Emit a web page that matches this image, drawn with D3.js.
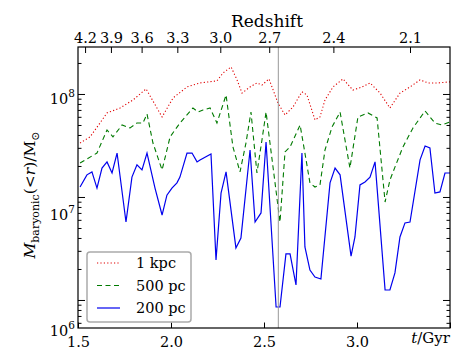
<!DOCTYPE html>
<html><head><meta charset="utf-8">
<script src="https://cdn.jsdelivr.net/npm/d3@7/dist/d3.min.js"></script>
<style>body{margin:0;background:#fff}svg{display:block}text{font-family:"DejaVu Serif",serif;fill:#000}</style>
</head><body><svg id="c" width="461" height="357"></svg>
<script>
// ---- data ----
const t1kpc = [1.511,1.565,1.618,1.656,1.726,1.796,1.866,1.952,2.011,2.086,2.156,2.247,2.280,2.323,2.355,2.382,2.425,2.462,2.489,2.527,2.575,2.613,2.656,2.704,2.731,2.774,2.801,2.828,2.871,2.925,2.978,3.027,3.070,3.124,3.177,3.231,3.285,3.339,3.382,3.435,3.500];
const m1kpc = [3.34e7,3.83e7,5.22e7,6.55e7,7.31e7,8.75e7,1.12e8,5.98e7,9.14e7,1.17e8,1.28e8,1.34e8,1.60e8,1.83e8,1.37e8,1.02e8,1.17e8,1.28e8,1.22e8,1.40e8,8.18e7,6.25e7,7.48e7,1.05e8,9.78e7,5.60e7,5.98e7,8.75e7,1.17e8,1.40e8,1.09e8,1.17e8,1.28e8,1.02e8,7.31e7,1.02e8,1.17e8,1.37e8,1.28e8,1.28e8,1.31e8];
const t500pc = [1.511,1.602,1.656,1.688,1.737,1.780,1.817,1.849,1.871,1.903,1.952,1.995,2.048,2.118,2.145,2.172,2.210,2.247,2.296,2.333,2.371,2.403,2.430,2.462,2.489,2.511,2.586,2.613,2.640,2.694,2.720,2.747,2.774,2.801,2.828,2.866,2.909,2.962,3.005,3.059,3.108,3.151,3.177,3.204,3.247,3.301,3.366,3.419,3.457,3.500];
const m500pc = [2.14e7,2.67e7,4.47e7,3.83e7,5.00e7,4.68e7,5.22e7,5.22e7,6.40e7,3.34e7,1.83e7,3.83e7,5.22e7,7.31e7,6.68e7,7.00e7,7.31e7,5.22e7,9.78e7,3.06e7,1.75e7,3.34e7,6.68e7,1.71e7,3.57e7,6.68e7,5.71e6,2.74e7,3.06e7,5.00e7,2.67e7,1.37e7,1.25e7,1.31e7,2.86e7,4.79e7,6.68e7,1.91e7,5.98e7,6.55e7,5.85e7,8.93e6,1.46e7,1.95e7,3.06e7,4.68e7,6.84e7,5.22e7,5.00e7,5.35e7];
const t200pc = [1.511,1.548,1.575,1.602,1.629,1.656,1.683,1.710,1.758,1.790,1.817,1.844,1.871,1.914,1.952,1.978,2.005,2.032,2.048,2.086,2.113,2.140,2.156,2.215,2.242,2.269,2.296,2.349,2.376,2.425,2.452,2.484,2.511,2.565,2.586,2.618,2.640,2.672,2.704,2.720,2.747,2.774,2.806,2.855,2.882,2.909,2.968,2.989,3.016,3.043,3.070,3.097,3.151,3.177,3.204,3.231,3.258,3.285,3.339,3.366,3.392,3.419,3.446,3.473,3.500];
const m200pc = [1.25e7,1.64e7,1.75e7,1.22e7,1.91e7,2.19e7,1.71e7,2.67e7,5.71e6,1.56e7,2.05e7,1.83e7,2.67e7,1.22e7,6.68e6,1.04e7,1.22e7,1.37e7,1.56e7,2.67e7,2.67e7,2.19e7,2.29e7,2.61e7,2.44e6,1.09e7,1.75e7,3.20e6,4.00e6,2.86e7,5.71e6,7.00e6,3.42e7,8.55e5,8.55e5,2.80e6,2.80e6,1.40e6,2.67e7,3.27e6,1.95e6,1.67e6,1.60e6,1.37e7,1.91e7,1.64e7,2.67e6,4.09e6,1.31e7,1.40e7,1.56e7,2.19e7,1.25e6,1.25e6,1.83e6,4.09e6,5.60e6,5.71e6,2.29e7,3.13e7,2.99e7,1.09e7,1.12e7,1.71e7,1.71e7];
const seriesNames = ["1 kpc","500 pc","200 pc"];
const xTicks = [1.5,2.0,2.5,3.0,3.5];
const xTickLabels = ["1.5","2.0","2.5","3.0",""];
const zTickLabels = ["4.2","3.9","3.6","3.3","3.0","2.7","2.4","2.1"];
const zTickTimes = [1.538,1.677,1.842,2.034,2.265,2.528,2.873,3.285];
const yMajor = [1e6,1e7,1e8];
const yLabelExp = ["6","7","8"];
const markerTime = 2.577;

// ---- layout ----
const W=461,H=357, L=78, R=450, T=47, B=328;
const svg = d3.select("#c");
const x = d3.scaleLinear().domain([1.5,3.5]).range([L,R]);
const y = d3.scaleLog().domain([Math.pow(10,5.728),Math.pow(10,8.456)]).range([B,T]);
const yLab = d3.scaleLog().domain([1e6,1e8]).range([331,99]);

const yMinor = [];
for (let e=5;e<=8;e++) for (let k=2;k<=9;k++){const v=k*Math.pow(10,e); if(v>=y.domain()[0]&&v<=y.domain()[1]) yMinor.push(v);}

const styles = [
  {t:t1kpc,m:m1kpc,color:"#e00000",dash:"1.2,2.2",w:1.1},
  {t:t500pc,m:m500pc,color:"#007a00",dash:"5,3.5",w:1.1},
  {t:t200pc,m:m200pc,color:"#0000ee",dash:null,w:1.2}
];

const clip = svg.append("clipPath").attr("id","pc").append("rect").attr("x",L).attr("y",T).attr("width",R-L).attr("height",B-T);
const line = d3.line().x(d=>x(d[0])).y(d=>y(d[1]));
const g = svg.append("g").attr("clip-path","url(#pc)");
styles.forEach(s=>{
  g.append("path").datum(s.t.map((tt,i)=>[tt,s.m[i]]))
   .attr("d",line).attr("fill","none").attr("stroke",s.color).attr("stroke-width",s.w)
   .attr("stroke-dasharray",s.dash).attr("stroke-linejoin","miter");
});
// marker line
svg.append("line").attr("x1",x(markerTime)).attr("x2",x(markerTime)).attr("y1",T).attr("y2",B)
  .attr("stroke","#999").attr("stroke-width",1);

// axes ticks
function styleAxis(sel){sel.select(".domain").remove(); sel.selectAll(".tick line").attr("stroke","#000").attr("stroke-width",1);}
svg.append("g").attr("transform",`translate(${L},0)`).call(d3.axisLeft(y).tickValues(yMajor).tickSize(-7).tickFormat("")).call(styleAxis);
svg.append("g").attr("transform",`translate(${L},0)`).call(d3.axisLeft(y).tickValues(yMinor).tickSize(-3.5).tickFormat("")).call(styleAxis);
svg.append("g").attr("transform",`translate(${R},0)`).call(d3.axisRight(y).tickValues(yMajor).tickSize(-7).tickFormat("")).call(styleAxis);
svg.append("g").attr("transform",`translate(${R},0)`).call(d3.axisRight(y).tickValues(yMinor).tickSize(-3.5).tickFormat("")).call(styleAxis);
const xb = svg.append("g").attr("transform",`translate(0,${B})`).call(d3.axisBottom(x).tickValues(xTicks).tickSize(-5.5).tickPadding(9).tickFormat((d,i)=>xTickLabels[i])).call(styleAxis);
xb.selectAll("text").attr("font-size",14.5).attr("font-family","DejaVu Serif");
const xt = svg.append("g").attr("transform",`translate(0,${T})`).call(d3.axisTop(x).tickValues(zTickTimes).tickSize(-6).tickPadding(4).tickFormat((d,i)=>zTickLabels[i])).call(styleAxis);
xt.selectAll("text").attr("font-size",14.5).attr("font-family","DejaVu Serif");

// frame
svg.append("rect").attr("x",L).attr("y",T).attr("width",R-L).attr("height",B-T).attr("fill","none").attr("stroke","#000").attr("stroke-width",1.2);

// y tick labels
yMajor.forEach((v,i)=>{
  const tx = svg.append("text").attr("x",75).attr("y",yLab(v)+5).attr("text-anchor","end").attr("font-size",14.5);
  tx.append("tspan").text("10");
  tx.append("tspan").attr("dy",-7).attr("font-size",10.5).text(yLabelExp[i]);
});

// titles
svg.append("text").attr("x",267).attr("y",27).attr("text-anchor","middle").attr("font-size",17).text("Redshift");
const xl = svg.append("text").attr("x",450).attr("y",343).attr("text-anchor","end").attr("font-size",15);
xl.append("tspan").attr("font-style","italic").text("t");
xl.append("tspan").text("/Gyr");
const yl = svg.append("text").attr("transform","translate(35,195) rotate(-90)").attr("text-anchor","middle").attr("font-size",15.5);
yl.append("tspan").attr("font-style","italic").text("M");
yl.append("tspan").attr("dy",4).attr("font-size",11).text("baryonic");
yl.append("tspan").attr("dy",-4).text("(<");
yl.append("tspan").attr("font-style","italic").text("r");
yl.append("tspan").text(")/M");
yl.append("tspan").attr("dy",4).attr("font-size",11).text("⊙");

// legend
const lg = svg.append("g");
lg.append("rect").attr("x",87).attr("y",252).attr("width",104).attr("height",70).attr("rx",3).attr("fill","#fff").attr("stroke","#aaa").attr("stroke-width",1.5);
seriesNames.forEach((n,i)=>{
  const yy = 263+i*22.5, s=styles[i];
  lg.append("line").attr("x1",97).attr("x2",120).attr("y1",yy).attr("y2",yy).attr("stroke",s.color).attr("stroke-width",s.w).attr("stroke-dasharray",s.dash);
  lg.append("text").attr("x",136).attr("y",yy+5).attr("font-size",14.5).text(n);
});
</script></body></html>
